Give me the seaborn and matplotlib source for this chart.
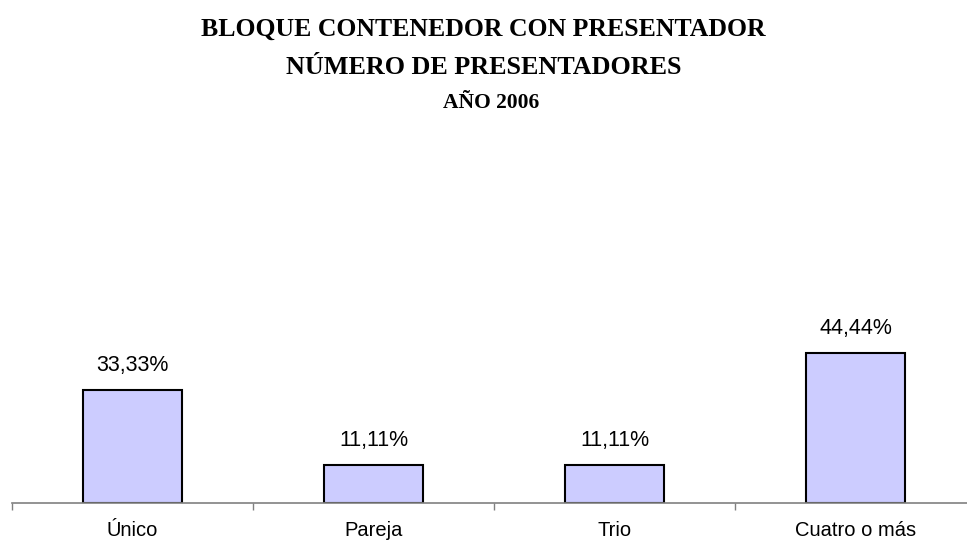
import matplotlib
matplotlib.use("Agg")
import matplotlib.pyplot as plt
import seaborn as sns
import pandas as pd
import numpy as np

categories = ["Único", "Pareja", "Trio", "Cuatro o más"]
values = [33.33, 11.11, 11.11, 44.44]
value_labels = ["33,33%", "11,11%", "11,11%", "44,44%"]
title_lines = ["BLOQUE CONTENEDOR CON PRESENTADOR", "NÚMERO DE PRESENTADORES", "AÑO 2006"]

sns.set_theme(style="white")
plt.rcParams["font.family"] = ["Liberation Sans", "DejaVu Sans"]
plt.rcParams["text.color"] = "black"

W, H = 967, 543
fig = plt.figure(figsize=(W / 100, H / 100), dpi=100)
base_y = 502.7
ax_left, ax_right = 12, 976
ax_height = 337.5
ax = fig.add_axes([ax_left / W, 1 - base_y / H, (ax_right - ax_left) / W, ax_height / H])

df = pd.DataFrame({"cat": categories, "val": values})
sns.barplot(data=df, x="cat", y="val", color="#CCCCFF", saturation=1,
            edgecolor="black", linewidth=1.5, width=0.41, ax=ax)

ax.set_xlim(-0.5, len(categories) - 0.5)
ax.set_ylim(0, 100)
ax.set_xlabel("")
ax.set_ylabel("")
ax.set_yticks([])

for side in ("top", "right", "left"):
    ax.spines[side].set_visible(False)
ax.spines["bottom"].set_color("#808080")
ax.spines["bottom"].set_linewidth(1.2)

ax.set_xticks(range(len(categories)))
ax.set_xticklabels(categories, fontsize=14.5, color="black")
ax.tick_params(axis="x", which="major", length=0, pad=13)
ax.set_xticks(np.arange(-0.5, len(categories), 1.0), minor=True)
ax.tick_params(axis="x", which="minor", length=5, width=1.0, color="#808080",
               direction="out", bottom=True)

for i, (v, lab) in enumerate(zip(values, value_labels)):
    ax.annotate(lab, xy=(i, v), xytext=(0, 13.5), textcoords="offset points",
                ha="center", va="baseline", fontsize=15.5, color="black")

serif = ["Liberation Serif", "DejaVu Serif"]
fig.text(0.5, 1 - 36 / H, title_lines[0], ha="center", va="baseline",
         fontsize=18.5, fontweight="bold", family=serif, color="black")
fig.text(0.5, 1 - 74 / H, title_lines[1], ha="center", va="baseline",
         fontsize=18.8, fontweight="bold", family=serif, color="black")
fig.text(491 / W, 1 - 108 / H, title_lines[2], ha="center", va="baseline",
         fontsize=15.5, fontweight="bold", family=serif, color="black")

fig.savefig("out.png", dpi=100)
